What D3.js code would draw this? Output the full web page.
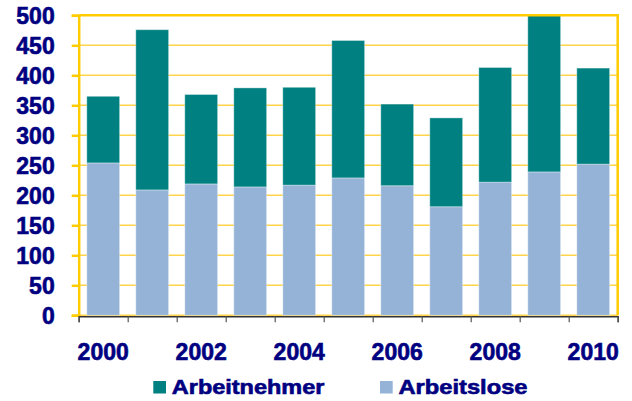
<!DOCTYPE html>
<html>
<head>
<meta charset="utf-8">
<script src="https://cdn.jsdelivr.net/npm/d3@7"></script>
<style>
  body { margin: 0; background: #fff; }
  text { font-family: "Liberation Sans", Arial, sans-serif; font-weight: bold; fill: #000080; stroke: #000080; stroke-width: 0.6px; }
</style>
</head>
<body>
<div id="chart"></div>
<script>
// Chart data
var years = [2000, 2001, 2002, 2003, 2004, 2005, 2006, 2007, 2008, 2009, 2010];
var arbeitslose = [254, 209, 219, 214, 217, 229, 216, 181, 222, 239, 252];
var arbeitnehmer = [111, 267, 149, 165, 163, 229, 136, 148, 191, 261, 160];
var yTicks = [0, 50, 100, 150, 200, 250, 300, 350, 400, 450, 500];
var xLabels = [2000, 2002, 2004, 2006, 2008, 2010];
var seriesNames = ['Arbeitnehmer', 'Arbeitslose'];

var svgWidth = 632, svgHeight = 401;
var margin = { top: 15.3, left: 78.7, right: 14.3, bottom: 85.7 };
var width = svgWidth - margin.left - margin.right;
var height = svgHeight - margin.top - margin.bottom;

var svg = d3.select('#chart').append('svg')
    .attr('width', svgWidth)
    .attr('height', svgHeight);

var chartGroup = svg.append('g')
    .attr('transform', `translate(${margin.left}, ${margin.top})`);

var xBand = d3.scaleBand()
    .domain(years)
    .range([0, width])
    .paddingInner(0.33)
    .paddingOuter(0.165);

var yLinear = d3.scaleLinear()
    .domain([0, 500])
    .range([height, 0]);

// gridlines
chartGroup.append('g')
    .selectAll('line')
    .data(yTicks)
    .enter()
    .append('line')
    .attr('x1', 0)
    .attr('x2', width)
    .attr('y1', d => yLinear(d))
    .attr('y2', d => yLinear(d))
    .attr('stroke', '#FFD34A')
    .attr('stroke-width', 1.6);

// stacked bars
var rows = years.map((y, i) => ({ year: y, Arbeitslose: arbeitslose[i], Arbeitnehmer: arbeitnehmer[i] }));
var stack = d3.stack().keys(['Arbeitslose', 'Arbeitnehmer'])(rows);
var colors = { Arbeitslose: '#95B3D7', Arbeitnehmer: '#008080' };

chartGroup.append('g')
    .selectAll('g')
    .data(stack)
    .enter()
    .append('g')
    .attr('fill', d => colors[d.key])
    .selectAll('rect')
    .data(d => d)
    .enter()
    .append('rect')
    .attr('x', d => xBand(d.data.year))
    .attr('width', xBand.bandwidth())
    .attr('y', d => yLinear(Math.min(d[1], 500)))
    .attr('height', d => yLinear(d[0]) - yLinear(Math.min(d[1], 500)))
    .attr('stroke', 'rgba(255,255,255,0.35)')
    .attr('stroke-width', 1);

// plot border (top and right)
chartGroup.append('path')
    .attr('d', `M0,0H${width}V${height}`)
    .attr('fill', 'none')
    .attr('stroke', '#FFCC00')
    .attr('stroke-width', 2.5);

// left axis
var leftAxis = d3.axisLeft(yLinear)
    .tickValues(yTicks)
    .tickSize(7)
    .tickPadding(17);

var yAxisG = chartGroup.append('g').call(leftAxis);
yAxisG.attr('font-family', null);
yAxisG.select('.domain').attr('stroke', '#FFCC00').attr('stroke-width', 2.5);
yAxisG.selectAll('.tick line').attr('stroke', '#FFCC00').attr('stroke-width', 2.5);
yAxisG.selectAll('.tick text')
    .attr('fill', '#000080')
    .style('font-size', '23px')
    .attr('dy', '0.36em');

// bottom axis: tick marks at category boundaries
var xEdge = d3.scaleLinear().domain([0, years.length]).range([0, width]);
var edgeAxis = d3.axisBottom(xEdge)
    .ticks(years.length)
    .tickSize(6)
    .tickFormat('');
var xAxisG = chartGroup.append('g')
    .attr('transform', `translate(0, ${height + 1})`)
    .call(edgeAxis);
xAxisG.select('.domain').attr('stroke', '#333').attr('stroke-width', 1.5);
xAxisG.selectAll('.tick line').attr('stroke', '#555').attr('stroke-width', 1.2);

// category labels
var labelAxis = d3.axisBottom(xBand)
    .tickValues(xLabels)
    .tickSize(0)
    .tickPadding(28);
var labelG = chartGroup.append('g')
    .attr('transform', `translate(0, ${height})`)
    .call(labelAxis);
labelG.attr('font-family', null);
labelG.select('.domain').remove();
labelG.selectAll('.tick text')
    .attr('fill', '#000080')
    .style('font-size', '23px');

// legend
var legendItems = [
    { name: seriesNames[0], color: colors.Arbeitnehmer, x: 153.3, w: 152.6 },
    { name: seriesNames[1], color: colors.Arbeitslose, x: 380, w: 129 }
];
var legend = svg.append('g');
legendItems.forEach(function(item) {
    legend.append('rect')
        .attr('x', item.x)
        .attr('y', 381)
        .attr('width', 12.7)
        .attr('height', 12.5)
        .attr('fill', item.color);
    legend.append('text')
        .attr('x', item.x + 18.5)
        .attr('y', 394.3)
        .attr('textLength', item.w)
        .attr('lengthAdjust', 'spacingAndGlyphs')
        .style('font-size', '20px')
        .text(item.name);
});
</script>
</body>
</html>
